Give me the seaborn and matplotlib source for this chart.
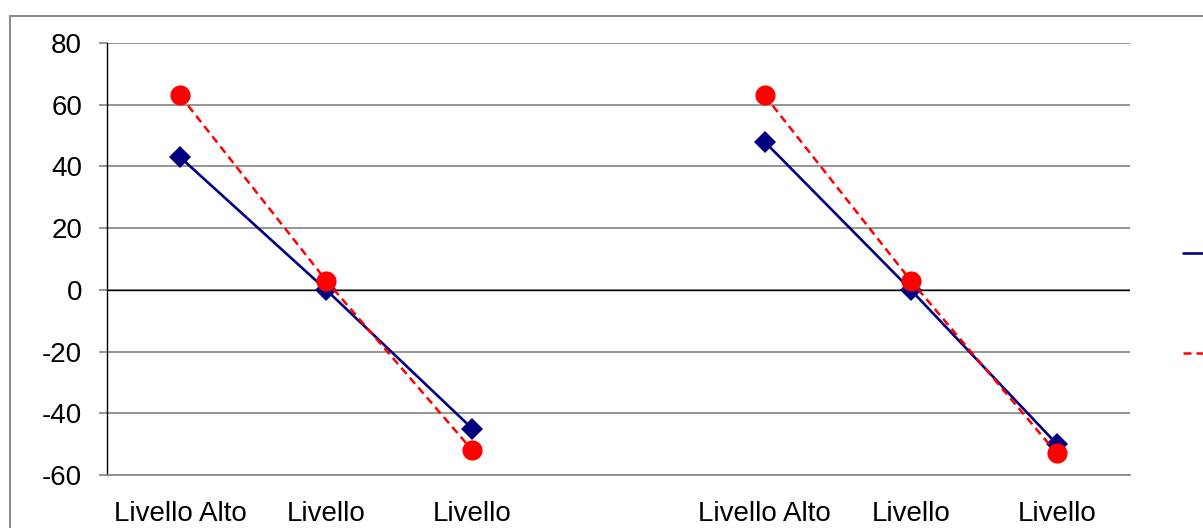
import numpy as np
import pandas as pd
import matplotlib
matplotlib.use("Agg")
import matplotlib.pyplot as plt
import seaborn as sns
from matplotlib.patches import Rectangle

# data
categories = ["Livello Alto", "Livello", "Livello", "", "Livello Alto", "Livello", "Livello"]
groups = [0, 0, 0, 1, 2, 2, 2]
serie_1 = [43, 0, -45, np.nan, 48, 0, -50]
serie_2 = [63, 3, -52, np.nan, 63, 3, -53]
series_names = ["Serie 1", "Serie 2"]

df = pd.DataFrame({"pos": range(len(categories)), "group": groups,
                   "s1": serie_1, "s2": serie_2})

sns.set_style("white")
plt.rcParams["font.family"] = ["Liberation Sans", "DejaVu Sans"]
plt.rcParams["axes.unicode_minus"] = False

FS = 20

fig = plt.figure(figsize=(12.03, 5.28), dpi=100)
ax = fig.add_axes([107 / 1203, 1 - 475 / 528, (1130 - 107) / 1203, (475 - 43) / 528])

# outer chart frame (cropped on right and bottom)
fig.patches.append(Rectangle((10 / 1203, -0.2), 1.2, 1.2 - 16 / 528,
                             transform=fig.transFigure, fill=False,
                             edgecolor="#8c8c8c", linewidth=1.5, zorder=0))

d = df.dropna()
sns.lineplot(data=d, x="pos", y="s1", units="group", estimator=None, ax=ax,
             color="#000080", linewidth=1.9, marker="D", markersize=11,
             markeredgewidth=0, label=series_names[0], zorder=3)
sns.lineplot(data=d, x="pos", y="s2", units="group", estimator=None, ax=ax,
             color="#ff0000", linewidth=1.8, linestyle=(0, (3.2, 2)), marker="o",
             markersize=14.5, markeredgewidth=0, label=series_names[1], zorder=4)

ax.set_xlim(-0.5, len(categories) - 0.5)
ax.set_ylim(-60, 80)
ax.set_yticks(range(-60, 81, 20))
ax.set_xticks(range(len(categories)))
ax.set_xticklabels(categories)
ax.set_xlabel("")
ax.set_ylabel("")

ax.grid(axis="y", color="#8c8c8c", linewidth=1.3)
ax.axhline(0, color="black", linewidth=1.0, zorder=2)
for s in ["top", "right"]:
    ax.spines[s].set_visible(False)
ax.spines["left"].set_color("black")
ax.spines["left"].set_linewidth(1.0)
ax.spines["bottom"].set_color("#8c8c8c")
ax.spines["bottom"].set_linewidth(1.3)

ax.tick_params(axis="y", direction="out", length=6, color="#8c8c8c",
               width=1.3, labelsize=FS, pad=12, left=True, labelcolor="black")
ax.tick_params(axis="x", length=0, labelsize=FS, pad=19, labelcolor="black")

handles, labels = ax.get_legend_handles_labels()
uniq = dict(zip(labels, handles))
ax.get_legend().remove()
fig.legend(list(uniq.values()), list(uniq.keys()), loc="upper left",
           bbox_to_anchor=(1183 / 1203, 1 - 243 / 528),
           frameon=False, borderpad=0, borderaxespad=0, handlelength=2.5,
           labelspacing=2.65, fontsize=FS)

fig.savefig("out.png", dpi=100)
